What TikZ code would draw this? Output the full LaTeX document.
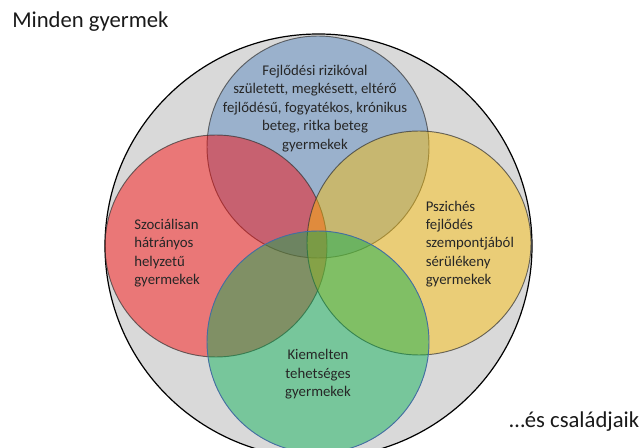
\documentclass[tikz,border=0pt]{standalone}
\usepackage{fontspec}
\setmainfont{Carlito}
\definecolor{vennblue}{HTML}{4F81BD}
\definecolor{vennred}{HTML}{FF0000}
\definecolor{vennyellow}{HTML}{FFC000}
\definecolor{venngreen}{HTML}{00B050}
\definecolor{outergrey}{HTML}{D9D9D9}

\begin{document}
\begin{tikzpicture}[x=0.75pt,y=-0.75pt,
    set/.style={fill opacity=0.45,draw=black!80,draw opacity=0.7,line width=0.7pt},
    lbl/.style={font=\fontsize{11.1}{13.8}\selectfont,text=black!85,inner sep=0pt},
    big/.style={font=\fontsize{17}{20}\selectfont,text=black!90,inner sep=0pt}]
\useasboundingbox (0,0) rectangle (641,448);
\clip (0,0) rectangle (641,448);
\draw[fill=outergrey,line width=0.9pt] (318.5,246) ellipse [x radius=213.5,y radius=212];
\draw[set,fill=vennblue] (318,147) circle [radius=111];
\draw[set,fill=vennred] (216,246) circle [radius=111];
\draw[set,fill=vennyellow] (419,243) circle [radius=112];
\draw[set,fill=venngreen,draw=vennblue!85!black,draw opacity=1] (318,342) circle [radius=111];
\node[lbl,align=center] (risk) at (315,108.5)
    {Fejlődési rizikóval\\született, megkésett, eltérő\\fejlődésű, fogyatékos, krónikus\\beteg, ritka beteg\\gyermekek};
\node[lbl,align=left,anchor=west] (social) at (134,253)
    {Szociálisan\\hátrányos\\helyzetű\\gyermekek};
\node[lbl,align=left,anchor=west] (psych) at (425.5,244)
    {Pszichés\\fejlődés\\szempontjából\\sérülékeny\\gyermekek};
\node[lbl,align=center] (gifted) at (318,374.5)
    {Kiemelten\\tehetséges\\gyermekek};
\node[big,anchor=base west] (all) at (12,27.5) {Minden gyermek};
\node[big,anchor=base west] (family) at (509,427) {…és családjaik};
\end{tikzpicture}
\end{document}
